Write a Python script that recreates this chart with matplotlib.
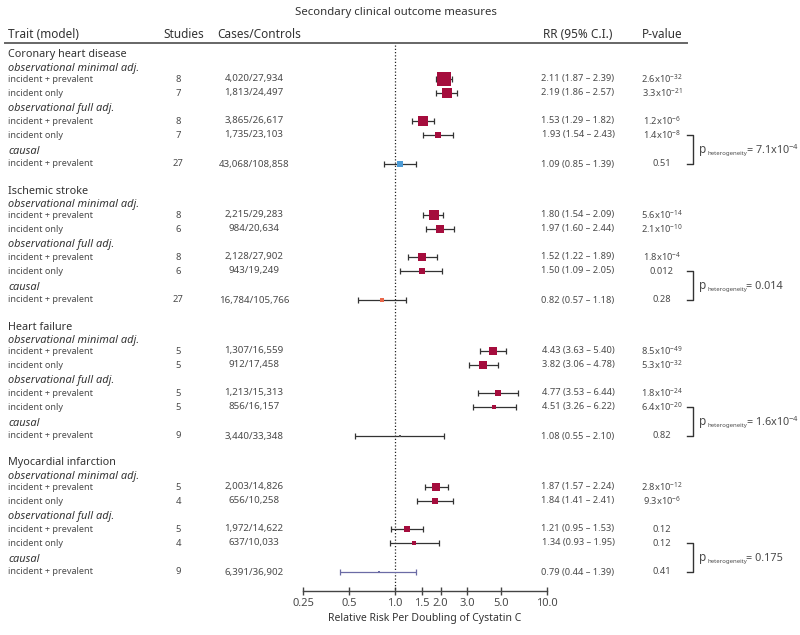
import numpy as np
import matplotlib
matplotlib.use("Agg")
import matplotlib.pyplot as plt
from matplotlib import transforms
from matplotlib.lines import Line2D

plt.rcParams['font.family'] = ['Noto Sans', 'DejaVu Sans']
plt.rcParams['mathtext.fontset'] = 'custom'
plt.rcParams['mathtext.rm'] = 'Noto Sans'
plt.rcParams['mathtext.it'] = 'Noto Sans:italic'
plt.rcParams['mathtext.default'] = 'regular'

#############################################
# data
traits = ["Coronary heart disease", "Ischemic stroke", "Heart failure", "Myocardial infarction"]
models = ["observational minimal adj.", "observational full adj.", "causal"]
subgroups = ["incident + prevalent", "incident only", "incident + prevalent", "incident only", "incident + prevalent"]

studies = [8, 7, 8, 7, 27,
           8, 6, 8, 6, 27,
           5, 5, 5, 5, 9,
           5, 4, 5, 4, 9]
cases_controls = ["4,020/27,934", "1,813/24,497", "3,865/26,617", "1,735/23,103", "43,068/108,858",
                  "2,215/29,283", "984/20,634", "2,128/27,902", "943/19,249", "16,784/105,766",
                  "1,307/16,559", "912/17,458", "1,213/15,313", "856/16,157", "3,440/33,348",
                  "2,003/14,826", "656/10,258", "1,972/14,622", "637/10,033", "6,391/36,902"]
rr = [2.11, 2.19, 1.53, 1.93, 1.09,
      1.80, 1.97, 1.52, 1.50, 0.82,
      4.43, 3.82, 4.77, 4.51, 1.08,
      1.87, 1.84, 1.21, 1.34, 0.79]
ci_lo = [1.87, 1.86, 1.29, 1.54, 0.85,
         1.54, 1.60, 1.22, 1.09, 0.57,
         3.63, 3.06, 3.53, 3.26, 0.55,
         1.57, 1.41, 0.95, 0.93, 0.44]
ci_hi = [2.39, 2.57, 1.82, 2.43, 1.39,
         2.09, 2.44, 1.89, 2.05, 1.18,
         5.40, 4.78, 6.44, 6.22, 2.10,
         2.24, 2.41, 1.53, 1.95, 1.39]
p_values = ["2.6x10$^{-32}$", "3.3x10$^{-21}$", "1.2x10$^{-6}$", "1.4x10$^{-8}$", "0.51",
            "5.6x10$^{-14}$", "2.1x10$^{-10}$", "1.8x10$^{-4}$", "0.012", "0.28",
            "8.5x10$^{-49}$", "5.3x10$^{-32}$", "1.8x10$^{-24}$", "6.4x10$^{-20}$", "0.82",
            "2.8x10$^{-12}$", "9.3x10$^{-6}$", "0.12", "0.12", "0.41"]
p_het = ["7.1x10$^{-4}$", "0.014", "1.6x10$^{-4}$", "0.175"]

obs_color = '#a50d3d'
causal_colors = ['#4d9cd6', '#e9674a', '#555555', '#6b6ba5']
#############################################
W, H = 800, 635
fig = plt.figure(figsize=(8, 6.35), dpi=100)
ax = fig.add_axes([303 / W, 0, 244 / W, 1])
ax.set_xscale('log')
ax.set_xlim(0.25, 10)
ax.set_ylim(H, 0)
ax.patch.set_visible(False)

tr = transforms.blended_transform_factory(fig.transFigure, ax.transData)
txt_dark = '#333333'
txt_num = '#4a4a4a'

def put(x, y, s, **kw):
    kw.setdefault('color', txt_num)
    kw.setdefault('va', 'center')
    ax.text(x / W, y, s, transform=tr, clip_on=False, **kw)

# header
fig.text(396 / W, 1 - 12 / H, "Secondary clinical outcome measures", ha='center', va='center',
         fontsize=8.2, color=txt_dark)
put(8, 34, "Trait (model)", fontsize=8.5, color=txt_dark, ha='left')
put(184, 34, "Studies", fontsize=8.5, color=txt_dark, ha='center')
put(217, 34, "Cases/Controls", fontsize=8.5, color=txt_dark, ha='left')
put(578, 34, "RR (95% C.I.)", fontsize=8.5, color=txt_dark, ha='center')
put(662, 34, "P-value", fontsize=8.5, color=txt_dark, ha='center')
fig.add_artist(Line2D([5 / W, 687 / W], [1 - 43 / H] * 2, transform=fig.transFigure,
                      color='#666666', lw=1.4))

# layout of one section (offsets from section title)
section_top = [55, 191, 327, 463]
model_off = [13, 53, 96]
row_off = [24, 38, 66, 80, 109]

ax.vlines(1.0, 45, 590, colors='#222222', linestyles=(0, (1, 1.6)), lw=0.9)

for s, trait in enumerate(traits):
    base = section_top[s]
    put(8, base, trait, fontsize=7.8, color=txt_dark, ha='left')
    for m, model in enumerate(models):
        put(8, base + model_off[m], model, fontsize=7.9, color=txt_dark, ha='left', style='italic')
    for r in range(5):
        i = s * 5 + r
        y = base + row_off[r]
        put(8, y, subgroups[r], fontsize=6.5, ha='left')
        put(178, y, str(studies[i]), fontsize=6.8, ha='center')
        put(254, y, cases_controls[i], fontsize=7.0, ha='center')
        put(578, y, "%.2f (%.2f \u2013 %.2f)" % (rr[i], ci_lo[i], ci_hi[i]), fontsize=6.7, ha='center')
        put(662, y, p_values[i], fontsize=6.7, ha='center')

        # box side scaled by inverse standard error
        se = (np.log(ci_hi[i]) - np.log(ci_lo[i])) / 3.92
        side_px = 0.814 / se
        col = obs_color if r < 4 else causal_colors[s]
        ecol = '#6b6ba5' if (r == 4 and s == 3) else '#333333'
        ax.errorbar(rr[i], y, xerr=[[rr[i] - ci_lo[i]], [ci_hi[i] - rr[i]]], fmt='none',
                    ecolor=ecol, elinewidth=0.9, capsize=2.0, capthick=0.9, zorder=3)
        ax.plot(rr[i], y, marker='s', ms=side_px * 0.72, color=col, mec=col, mew=0, zorder=4)

    # heterogeneity bracket
    y0, y1 = base + row_off[3], base + row_off[4]
    ym = (y0 + y1) / 2 + 1
    ax.add_line(Line2D([687 / W, 693 / W, 693 / W, 687 / W], [y0, y0, y1, y1], transform=tr,
                       color='#333333', lw=1.0, clip_on=False))
    put(699, ym - 1, "p", fontsize=8.5, ha='left')
    put(708, ym + 3, "heterogeneity", fontsize=4.3, ha='left')
    put(746, ym, "= " + p_het[s], fontsize=7.8, ha='left')

# axis
for sp in ['left', 'right', 'top']:
    ax.spines[sp].set_visible(False)
ax.spines['bottom'].set_position(('data', 591))
ax.spines['bottom'].set_color('#444444')
ax.spines['bottom'].set_linewidth(1.0)
ax.set_yticks([])
ticks = [0.25, 0.5, 1.0, 1.5, 2.0, 3.0, 5.0, 10.0]
ax.set_xticks(ticks)
ax.set_xticklabels(["0.25", "0.5", "1.0", "1.5", "2.0", "3.0", "5.0", "10.0"])
ax.xaxis.set_minor_locator(matplotlib.ticker.NullLocator())
ax.tick_params(axis='x', direction='inout', length=6, width=1.0, color='#444444',
               labelsize=8, labelcolor=txt_num, pad=2)
ax.set_xlabel("Relative Risk Per Doubling of Cystatin C", fontsize=7.5, color=txt_dark, labelpad=3)

fig.savefig('out.png', dpi=100)
